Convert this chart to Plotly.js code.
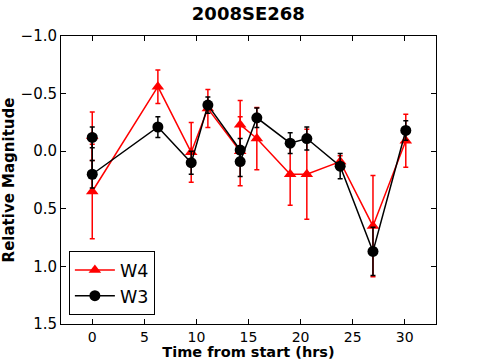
<!DOCTYPE html>
<html>
<head>
<meta charset="utf-8">
<script src="https://cdn.plot.ly/plotly-3.0.1.min.js"></script>
<style>
  html, body { margin: 0; padding: 0; background: #fff; }
  #graph { width: 485px; height: 360px; }
</style>
</head>
<body>
<div id="graph"></div>
<script>
// hours since start, same times for both bands
var hours = [0, 0, 6.3, 9.5, 11.1, 14.2, 14.2, 15.8, 19.0, 20.6, 23.8, 26.95, 30.1]

var w4Mag = [-0.13, 0.35, -0.56, 0.01, -0.37, 0.0, -0.23, -0.11, 0.2, 0.2, 0.09, 0.65, -0.09]
var w4Err = [0.21, 0.41, 0.145, 0.26, 0.165, 0.3, 0.21, 0.27, 0.27, 0.39, 0.05, 0.44, 0.23]

var w3Mag = [-0.12, 0.2, -0.21, 0.1, -0.4, -0.01, 0.09, -0.29, -0.07, -0.11, 0.13, 0.87, -0.18]
var w3Err = [0.09, 0.12, 0.09, 0.1, 0.07, 0.1, 0.13, 0.085, 0.09, 0.1, 0.11, 0.21, 0.085]

var yTicks = [-1.0, -0.5, 0.0, 0.5, 1.0, 1.5]
var xTicks = [0, 5, 10, 15, 20, 25, 30]

var font = 'DejaVu Sans, Liberation Sans, sans-serif'

var data = [
  {
    type: 'scatter',
    mode: 'lines+markers',
    name: 'W4',
    x: hours,
    y: w4Mag,
    line: { color: 'red', width: 1.5 },
    marker: { symbol: 'triangle-up', size: 11, color: 'red' },
    error_y: { type: 'data', array: w4Err, color: 'red', thickness: 1.5, width: 2.5 }
  },
  {
    type: 'scatter',
    mode: 'lines+markers',
    name: 'W3',
    x: hours,
    y: w3Mag,
    line: { color: 'black', width: 1.5 },
    marker: { symbol: 'circle', size: 11, color: 'black' },
    error_y: { type: 'data', array: w3Err, color: 'black', thickness: 1.5, width: 2.5 }
  }
]

var layout = {
  width: 485,
  height: 360,
  margin: { l: 61, r: 49, t: 36, b: 36 },
  paper_bgcolor: 'white',
  plot_bgcolor: 'white',
  font: { family: font, size: 15, color: 'black' },
  title: {
    text: '<b>2008SE268</b>',
    font: { family: font, size: 18, color: 'black' },
    x: 0.512,
    xanchor: 'center',
    y: 0.962,
    yanchor: 'middle'
  },
  showlegend: true,
  legend: {
    x: 0.021,
    y: 0.031,
    xanchor: 'left',
    yanchor: 'bottom',
    bgcolor: 'white',
    bordercolor: 'black',
    borderwidth: 1,
    tracegroupgap: 0,
    font: { family: font, size: 17.5, color: 'black' },
    itemwidth: 40
  },
  xaxis: {
    range: [-3, 33],
    tickvals: xTicks,
    ticks: 'inside',
    ticklen: 5,
    tickcolor: 'black',
    showline: true,
    linecolor: 'black',
    linewidth: 1,
    mirror: 'ticks',
    showgrid: false,
    zeroline: false,
    tickfont: { family: font, size: 14 },
    title: {
      text: '<b>Time from start (hrs)</b>',
      font: { family: font, size: 14.5 },
      standoff: 4
    }
  },
  yaxis: {
    range: [1.5, -1.0],
    tickvals: yTicks,
    tickformat: '.1f',
    ticks: 'inside',
    ticklen: 5,
    tickcolor: 'black',
    showline: true,
    linecolor: 'black',
    linewidth: 1,
    mirror: 'ticks',
    showgrid: false,
    zeroline: false,
    tickfont: { family: font, size: 15 },
    title: {
      text: '<b>Relative Magnitude</b>',
      font: { family: font, size: 15 },
      standoff: 5
    }
  }
}

Plotly.newPlot('graph', data, layout, { displayModeBar: false, staticPlot: true })
</script>
</body>
</html>
